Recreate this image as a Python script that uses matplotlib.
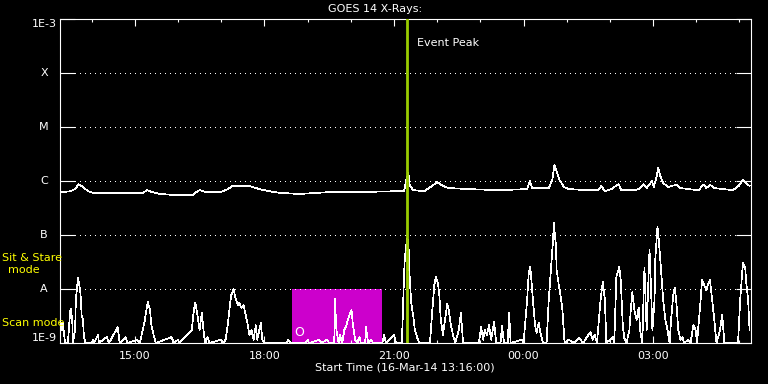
import numpy as np
import matplotlib
matplotlib.use('Agg')
import matplotlib.pyplot as plt
import matplotlib.transforms as mtransforms
from matplotlib.ticker import FixedLocator, NullLocator

plt.rcParams['font.family'] = 'DejaVu Sans'
plt.rcParams['font.size'] = 8

# start of the plot, minutes after midnight of 16-Mar-14
start_minute = 13 * 60 + 16

# GOES long channel (minutes after start, log10 flux)
upper_t = [0, 7, 14, 21, 26, 32, 39, 46, 69, 97,
           115, 121, 127, 139, 159, 184, 190, 194, 201, 224,
           233, 240, 263, 277, 291, 305, 333, 381, 430, 464,
           478, 481, 484, 486, 491, 506, 515, 524, 532, 540,
           568, 610, 649, 653, 656, 679, 684, 687, 690, 694,
           700, 707, 734, 748, 752, 757, 766, 770, 776, 780,
           797, 804, 811, 815, 819, 822, 825, 829, 831, 834,
           838, 845, 856, 862, 873, 887, 894, 898, 903, 909,
           921, 935, 943, 949, 953, 958]
upper_v = [-6.20, -6.20, -6.19, -6.15, -6.06, -6.11, -6.19, -6.22, -6.22, -6.22,
           -6.22, -6.17, -6.20, -6.24, -6.26, -6.26, -6.20, -6.17, -6.20, -6.20,
           -6.15, -6.09, -6.09, -6.15, -6.19, -6.22, -6.24, -6.20, -6.20, -6.19,
           -6.19, -5.98, -5.85, -6.09, -6.17, -6.19, -6.11, -6.02, -6.09, -6.13,
           -6.15, -6.17, -6.15, -6.00, -6.13, -6.13, -5.98, -5.70, -5.83, -5.98,
           -6.11, -6.15, -6.17, -6.17, -6.09, -6.19, -6.15, -6.11, -6.06, -6.17,
           -6.17, -6.15, -6.06, -6.13, -6.07, -6.00, -6.11, -5.91, -5.76, -5.91,
           -6.04, -6.11, -6.07, -6.13, -6.15, -6.17, -6.07, -6.13, -6.07, -6.13,
           -6.15, -6.17, -6.09, -5.98, -6.04, -6.09]

# spiky lower trace (minutes after start, log10 flux)
lower_t = [0, 1, 3, 4, 7, 11, 14, 15, 17, 18,
           21, 22, 24, 25, 26, 28, 29, 30, 32, 33,
           35, 44, 46, 47, 53, 54, 65, 68, 78, 80,
           83, 91, 94, 107, 111, 118, 121, 122, 125, 127,
           130, 133, 155, 158, 164, 166, 183, 186, 188, 191,
           194, 197, 200, 202, 205, 208, 223, 227, 230, 233,
           236, 238, 241, 244, 247, 249, 252, 255, 258, 261,
           263, 266, 269, 272, 274, 279, 281, 284, 315, 317,
           320, 341, 344, 346, 360, 363, 371, 374, 381, 382,
           384, 387, 389, 392, 395, 398, 400, 403, 405, 407,
           410, 413, 416, 418, 424, 425, 428, 432, 435, 448,
           450, 453, 464, 467, 475, 478, 479, 482, 484, 485,
           486, 488, 491, 493, 496, 499, 514, 517, 520, 522,
           525, 527, 529, 532, 535, 538, 540, 543, 546, 549,
           554, 557, 560, 582, 585, 588, 590, 593, 596, 599,
           603, 606, 612, 614, 617, 622, 624, 626, 642, 644,
           649, 651, 653, 654, 657, 660, 662, 665, 668, 671,
           676, 679, 682, 685, 686, 687, 689, 690, 693, 696,
           698, 701, 707, 714, 721, 727, 734, 737, 740, 743,
           746, 751, 754, 757, 759, 768, 770, 773, 776, 777,
           779, 782, 784, 787, 791, 793, 795, 798, 801, 804,
           806, 809, 811, 812, 815, 818, 819, 820, 823, 826,
           827, 830, 831, 833, 836, 838, 841, 844, 847, 849,
           852, 854, 856, 859, 862, 865, 867, 873, 876, 880,
           883, 885, 890, 892, 895, 898, 901, 903, 906, 909,
           912, 917, 920, 923, 942, 945, 948, 949, 952, 953,
           956, 958]
lower_v = [-8.80, -8.63, -8.76, -8.63, -9.00, -9.00, -8.43, -8.37, -8.57, -9.00,
           -8.76, -8.20, -7.93, -7.80, -7.87, -8.02, -8.20, -8.48, -8.57, -8.85,
           -9.00, -9.00, -8.94, -9.00, -8.85, -9.00, -8.89, -9.00, -8.76, -8.70,
           -9.00, -8.89, -9.00, -8.94, -9.00, -8.57, -8.30, -8.24, -8.39, -8.67,
           -8.85, -9.00, -8.89, -9.00, -8.94, -9.00, -8.76, -8.39, -8.26, -8.48,
           -8.76, -8.44, -8.85, -9.00, -8.89, -9.00, -8.94, -9.00, -8.94, -8.67,
           -8.30, -8.11, -8.00, -8.17, -8.30, -8.26, -8.35, -8.30, -8.48, -8.67,
           -8.85, -8.76, -8.94, -8.67, -8.94, -8.63, -8.94, -9.00, -9.00, -8.94,
           -9.00, -9.00, -8.94, -9.00, -8.94, -9.00, -8.94, -9.00, -9.00, -8.19,
           -8.76, -9.00, -8.85, -9.00, -8.76, -8.67, -8.57, -8.44, -8.39, -8.67,
           -8.94, -9.00, -8.89, -9.00, -9.00, -8.70, -9.00, -8.94, -9.00, -9.00,
           -8.85, -9.00, -8.85, -9.00, -9.00, -7.74, -7.44, -7.07, -7.09, -7.56,
           -7.83, -8.26, -8.52, -8.76, -8.89, -9.00, -9.00, -8.44, -7.93, -7.78,
           -7.89, -8.11, -8.57, -8.85, -8.57, -8.28, -8.39, -8.67, -8.85, -9.00,
           -8.76, -8.44, -9.00, -9.00, -8.70, -8.94, -8.76, -8.85, -8.67, -8.94,
           -8.61, -9.00, -9.00, -8.69, -9.00, -9.00, -8.44, -9.00, -8.94, -9.00,
           -8.20, -7.74, -7.59, -7.69, -8.20, -8.67, -8.81, -8.63, -8.85, -9.00,
           -9.00, -8.20, -7.65, -7.09, -6.78, -6.91, -7.19, -7.65, -7.93, -8.17,
           -8.39, -9.00, -8.94, -9.00, -8.91, -9.00, -8.85, -8.80, -8.94, -8.85,
           -9.00, -8.20, -7.87, -8.20, -9.00, -8.89, -9.00, -7.76, -7.65, -7.59,
           -7.83, -8.70, -8.91, -9.00, -8.76, -8.39, -8.06, -8.39, -8.57, -8.35,
           -8.76, -9.00, -8.02, -7.61, -8.76, -7.65, -7.28, -7.56, -8.76, -8.20,
           -7.46, -6.85, -6.94, -7.28, -7.83, -8.20, -8.57, -8.76, -9.00, -8.57,
           -8.11, -7.98, -8.20, -8.76, -8.94, -8.89, -9.00, -8.94, -9.00, -8.67,
           -8.76, -9.00, -8.20, -7.83, -7.93, -8.02, -7.89, -7.83, -8.20, -8.57,
           -9.00, -8.76, -8.48, -9.00, -9.00, -8.20, -7.65, -7.52, -7.61, -7.83,
           -8.20, -8.76]

level_names = ['1E-9', 'A', 'B', 'C', 'M', 'X', '1E-3']
level_exp = [-9, -8, -7, -6, -5, -4, -3]

peak_t = 482
scan_start = 322
scan_end = 447
t_end = 960

levels = 10.0 ** np.array(level_exp, dtype=float)

fig = plt.figure(figsize=(7.68, 3.84), dpi=100, facecolor='black')
ax = fig.add_axes([60 / 768, 1 - 343 / 384, 691 / 768, 324 / 384])
ax.set_facecolor('black')
ax.set_yscale('log')
ax.set_xlim(0, t_end)
ax.set_ylim(levels[0], levels[-1])

# scan mode block
ax.axvspan(scan_start, scan_end, ymin=0, ymax=1 / 6, color='#cc00cc', lw=0, zorder=1)
ax.text(scan_start + 3, 10 ** -8.8, 'O', color='white', fontsize=9, va='center', zorder=5)

for lv in levels[1:-1]:
    ax.axhline(lv, color='white', lw=0.72, ls=(0, (1, 5)), antialiased=False, zorder=2)

ax.plot(lower_t, 10.0 ** np.array(lower_v), color='white', lw=0.5, antialiased=False, zorder=3)
ax.plot(upper_t, 10.0 ** np.array(upper_v), color='white', lw=0.5, antialiased=False, zorder=3)

ax.axvline(peak_t, color='#99cc00', lw=2.0, zorder=4)
trans = mtransforms.blended_transform_factory(ax.transData, ax.transAxes)
ax.text(peak_t + 14, 0.925, 'Event Peak', color='white', transform=trans, va='center')

for s in ax.spines.values():
    s.set_color('white')
    s.set_linewidth(0.8)

# y ticks: one per level, inward on both sides
ax.yaxis.set_major_locator(FixedLocator(levels))
ax.yaxis.set_minor_locator(NullLocator())
ax.tick_params(axis='y', which='both', direction='in', length=10.8, width=0.8,
               color='white', left=True, right=True, labelleft=False)
ytrans = mtransforms.blended_transform_factory(fig.transFigure, ax.transData)
for i, (name, lv) in enumerate(zip(level_names, levels)):
    va = 'bottom' if i == 0 else ('top' if i == len(levels) - 1 else 'center')
    fig.text(44 / 768, lv, name, color='white', ha='center', va=va, transform=ytrans)

# x ticks: major every 3 h, minor every hour
hours = np.arange(14, 30)
pos = hours * 60 - start_minute
major = hours % 3 == 0
ax.xaxis.set_major_locator(FixedLocator(pos[major]))
ax.xaxis.set_minor_locator(FixedLocator(pos[~major]))
ax.set_xticklabels(['%02d:00' % (h % 24) for h in hours[major]])
ax.tick_params(axis='x', which='major', direction='in', length=4.8, width=0.8,
               color='white', labelcolor='white', top=True, bottom=True, pad=6)
ax.tick_params(axis='x', which='minor', direction='in', length=2.4, width=0.8,
               color='white', top=True, bottom=True)

fig.text(405 / 768, 1 - 368 / 384, 'Start Time (16-Mar-14 13:16:00)', color='white',
         ha='center', va='center')
fig.text(375 / 768, 1 - 9 / 384, 'GOES 14 X-Rays:', color='white', ha='center', va='center')

fig.text(2 / 768, 1 - 258 / 384, 'Sit & Stare', color='yellow', ha='left', va='center')
fig.text(24 / 768, 1 - 270 / 384, 'mode', color='yellow', ha='center', va='center')
fig.text(2 / 768, 1 - 323 / 384, 'Scan mode', color='yellow', ha='left', va='center')

fig.savefig('out.png', dpi=100, facecolor='black')
